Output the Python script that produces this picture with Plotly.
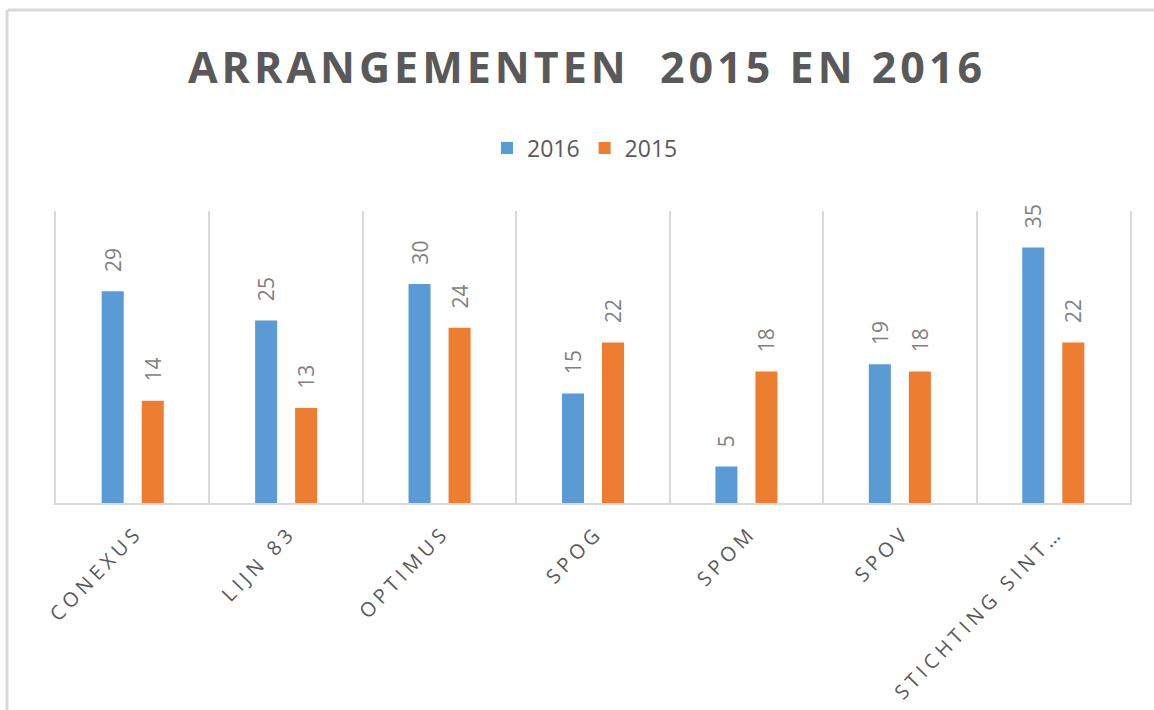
import plotly.graph_objects as go

categories = ["CONEXUS", "LIJN 83", "OPTIMUS", "SPOG", "SPOM", "SPOV", "STICHTING SINT…"]
values_2016 = [29, 25, 30, 15, 5, 19, 35]
values_2015 = [14, 13, 24, 22, 18, 18, 22]
title_text = "ARRANGEMENTEN  2015 EN 2016"

W, H = 1154, 710
L, R, T, B = 56, 24, 211, 207
pw, ph = W - L - R, H - T - B

def px_x(p):
    return (p - L) / pw

def px_y(p):
    return (H - B - p) / ph

label_font = dict(family="Open Sans, Lato, sans-serif", size=21, color="#7f7f7f")

fig = go.Figure()
for name, vals, col in [("2016", values_2016, "#5b9bd5"), ("2015", values_2015, "#ed7d31")]:
    fig.add_trace(go.Bar(
        name=name, x=categories, y=vals,
        marker=dict(color=col, line=dict(width=0)),
        texttemplate="\u00a0\u00a0\u00a0%{y}", textposition="outside", textangle=-90,
        textfont=label_font, cliponaxis=False, constraintext="none",
    ))

fig.update_layout(
    width=W, height=H,
    margin=dict(l=L, r=R, t=T, b=B, autoexpand=False),
    paper_bgcolor="white", plot_bgcolor="white",
    barmode="group", bargap=0.478, bargroupgap=0.45,
    title=dict(text=title_text, x=587 / W, xref="container", xanchor="center",
               y=1 - 68 / H, yref="container", yanchor="middle",
               font=dict(family="Open Sans, sans-serif", size=43, color="#595959", weight="bold")),
    legend=dict(orientation="h", x=px_x(585), xanchor="center", y=px_y(148), yanchor="middle",
                font=dict(family="Open Sans, Lato, sans-serif", size=23, color="#595959"),
                itemwidth=30, traceorder="normal", bgcolor="rgba(0,0,0,0)"),
    showlegend=True,
    xaxis=dict(tickson="boundaries", showgrid=True, gridcolor="#d9d9d9", gridwidth=2,
               showline=True, linecolor="#d9d9d9", linewidth=2, ticks="",
               tickangle=-46, ticklabelstandoff=8, ticklabelshift=4,
               tickfont=dict(family="Open Sans, sans-serif", size=20, color="#595959"),
               zeroline=False),
    yaxis=dict(range=[0, 40], showgrid=False, showticklabels=False, zeroline=False,
               showline=True, mirror=True, linecolor="#d9d9d9", linewidth=2, ticks=""),
    shapes=[
        dict(type="line", xref="paper", yref="paper", x0=px_x(8), x1=px_x(1160),
             y0=px_y(10), y1=px_y(10), line=dict(color="#d9d9d9", width=3)),
        dict(type="line", xref="paper", yref="paper", x0=px_x(7), x1=px_x(7),
             y0=px_y(10), y1=px_y(720), line=dict(color="#d9d9d9", width=3)),
    ],
)

post = """
document.body.style.margin = '0';
var gd = document.getElementById('{plot_id}');
gd.querySelectorAll('.gtitle').forEach(function(t){ t.style.letterSpacing = '4px'; });
gd.querySelectorAll('.xtick text').forEach(function(t){ t.style.letterSpacing = '4.5px'; });
"""
fig.write_html("out.html", post_script=post, config={"displayModeBar": False})
